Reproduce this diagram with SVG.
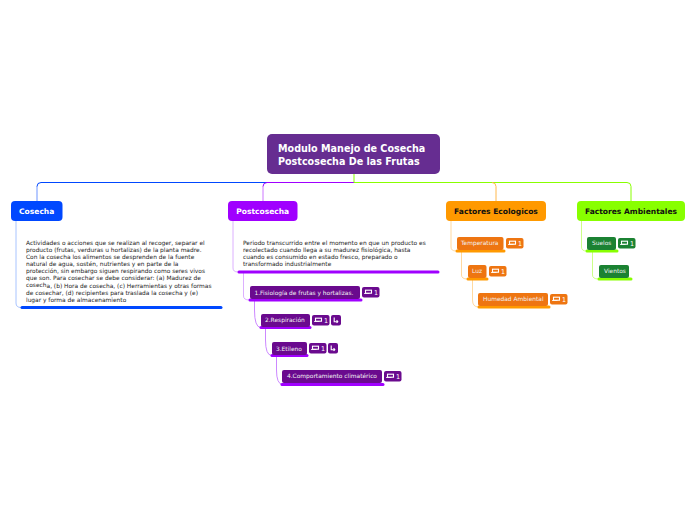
<svg xmlns="http://www.w3.org/2000/svg" width="696" height="520" viewBox="0 0 696 520">
<style>
text{font-family:"DejaVu Sans",Verdana,sans-serif}
.c{fill:none;stroke-width:1}
.b{fill:none;stroke-width:3;stroke-linecap:round}
.t{font-size:5.9px;fill:#222}
.s{font-size:5.9px;fill:#f2f2f2}
.h{font-size:7.55px;font-weight:700;text-anchor:middle}
.r{font-size:9.6px;font-weight:700;fill:#fff}
.n{font-size:6.4px;fill:#fff}
.p{fill:#6a0a8e}
.o{fill:#ee7511}
.g{fill:#1b8232}
.ic{fill:none;stroke:#fff;stroke-width:1.1}
</style>
<defs>
<g id="cm"><rect x="-3" y="-1.800" width="6" height="3" fill="none" stroke="#fff" stroke-width="1.100"/><path d="M-4.500 1.500H1" stroke="#fff" stroke-width="0.800"/></g>
<g id="bk"><path d="M-1.800-2.500v4.200h3.600M0.600 0.200l1.200 1.500-1.200 1.200" class="ic" stroke-width="0.900"/></g>
</defs>
<g id="connectors">
<path class="c" stroke="#0048ff" d="M354 182.500H41q-4 0-4 4"/>
<path class="c" stroke="#6f95ff" stroke-width="1.500" d="M37 186v15"/>
<path class="c" stroke="#a000ff" d="M354 182.500H267q-4 0-4 4"/>
<path class="c" stroke="#cc77ff" stroke-width="1.500" d="M263 186v15"/>
<path class="c" stroke="#88ff00" d="M354 174v8.500H627q4 0 4 4V201"/>
<path class="c" stroke="#ffb84d" d="M492 182.500q4 0 4 4V201"/>
<path class="c" stroke="#a8c4ff" d="M16 221V303q0 4.500 5 4.500"/>
<path class="c" stroke="#dcb0ff" d="M233 221V268q0 4 5 4"/>
<path class="c" stroke="#dcb0ff" d="M243.500 272V296q0 4 6 4"/>
<path class="c" stroke="#cc88ff" d="M254.500 300V310q0 17 6 17.500"/>
<path class="c" stroke="#cc88ff" d="M265.500 327.500V340q0 15 6 15.500"/>
<path class="c" stroke="#cc88ff" d="M276.500 355.500V370q0 14 6 14.500"/>
<path class="c" stroke="#ffd9a0" d="M451 221V247q0 4 5 4"/>
<path class="c" stroke="#ffd9a0" d="M461.500 251V275q0 4 6 4"/>
<path class="c" stroke="#ffd9a0" d="M472.500 279V300q0 7 6 7"/>
<path class="c" stroke="#ccff88" d="M581.500 221V247q0 4 5 4"/>
<path class="c" stroke="#ccff88" d="M592.500 251V275q0 4 6 4"/>
<path class="b" stroke="#0048ff" d="M22 307.500H221"/>
<path class="b" stroke="#a000ff" d="M239 272H438"/>
<path class="b" stroke="#a000ff" d="M250 300H361"/>
<path class="b" stroke="#a000ff" d="M261 327.500H310"/>
<path class="b" stroke="#a000ff" d="M272 355.500H307"/>
<path class="b" stroke="#a000ff" d="M282 384.500H383"/>
<path class="b" stroke="#ff9900" d="M457 251H504"/>
<path class="b" stroke="#ff9900" d="M468 279H487"/>
<path class="b" stroke="#ff9900" d="M479 307H549"/>
<path class="b" stroke="#88ff00" d="M587 251H617"/>
<path class="b" stroke="#88ff00" d="M599 279H631"/>
</g>
<g id="root"><rect x="267" y="134" width="173" height="40" rx="5" fill="#662d91"/>
<text class="r" x="278" y="152">Modulo Manejo de Cosecha</text>
<text class="r" x="278" y="164.500">Postcosecha De las Frutas</text></g>
<g id="cosecha"><rect x="11" y="201" width="51.500" height="20" rx="4" fill="#0048ff"/><text class="h" x="36.700" y="214" fill="#fff">Cosecha</text></g>
<g id="postcosecha"><rect x="228" y="201" width="69.500" height="20" rx="4" fill="#a000ff"/><text class="h" x="262.700" y="214" fill="#fff">Postcosecha</text></g>
<g id="ecologicos"><rect x="446" y="201" width="100" height="20" rx="4" fill="#ff9900"/><text class="h" x="496" y="214" fill="#111">Factores Ecologicos</text></g>
<g id="ambientales"><rect x="577" y="201" width="108" height="20" rx="4" fill="#88ff00"/><text class="h" x="631" y="214" fill="#111">Factores Ambientales</text></g>
<g id="cosecha-note" class="t">
<text x="26" y="245">Actividades o acciones que se realizan al recoger, separar el</text>
<text x="26" y="252">producto (frutas, verduras u hortalizas) de la planta madre.</text>
<text x="26" y="259">Con la cosecha los alimentos se desprenden de la fuente</text>
<text x="26" y="266">natural de agua, sostén, nutrientes y en parte de la</text>
<text x="26" y="273">protección, sin embargo siguen respirando como seres vivos</text>
<text x="26" y="280">que son. Para cosechar se debe considerar: (a) Madurez de</text>
<text x="26" y="287">cosech<tspan dy="1">a, (b) Hora de cosecha, (c) Herramientas y otras formas</tspan></text>
<text x="26" y="295">de cosechar, (d) recipientes para traslada la cosecha y (e)</text>
<text x="26" y="302">lugar y forma de almacenamiento</text>
</g>
<g id="post-note" class="t">
<text x="243" y="245">Periodo transcurrido entre el momento en que un producto es</text>
<text x="243" y="252">recolectado cuando llega a su madurez fisiológica, hasta</text>
<text x="243" y="259">cuando es consumido en estado fresco, preparado o</text>
<text x="243" y="266">transformado industrialmente</text>
</g>
<g id="fisiologia"><rect x="250" y="286" width="110" height="13" rx="2" class="p"/><text class="s" x="254.500" y="295">1.Fisiología de frutas y hortalizas.</text>
<rect x="362" y="287" width="17.500" height="10.500" rx="2" class="p"/><use href="#cm" x="368.500" y="292"/><text class="n" x="374" y="295">1</text></g>
<g id="respiracion"><rect x="261" y="314" width="49" height="13" rx="2" class="p"/><text class="s" x="265" y="322">2.Respiración</text>
<rect x="312" y="315" width="17.500" height="10.500" rx="2" class="p"/><use href="#cm" x="318.500" y="320"/><text class="n" x="324" y="323">1</text>
<rect x="331" y="315" width="10" height="10.500" rx="2" class="p"/><use href="#bk" x="336" y="320"/></g>
<g id="etileno"><rect x="272" y="342" width="35" height="13" rx="2" class="p"/><text class="s" x="276" y="351">3.Etileno</text>
<rect x="309" y="343" width="17.500" height="10.500" rx="2" class="p"/><use href="#cm" x="315.500" y="348"/><text class="n" x="321" y="351">1</text>
<rect x="328" y="343" width="10" height="10.500" rx="2" class="p"/><use href="#bk" x="333" y="348"/></g>
<g id="comportamiento"><rect x="282" y="370" width="100" height="13" rx="2" class="p"/><text class="s" x="287" y="378">4.Comportamiento climatérico</text>
<rect x="384" y="371" width="17.500" height="10.500" rx="2" class="p"/><use href="#cm" x="390.500" y="376"/><text class="n" x="396" y="379">1</text></g>
<g id="temperatura"><rect x="457" y="237" width="46.500" height="13" rx="2" class="o"/><text class="s" x="461" y="245">Temperatura</text>
<rect x="506" y="238" width="17.500" height="10.500" rx="2" class="o"/><use href="#cm" x="512.500" y="243"/><text class="n" x="518" y="246">1</text></g>
<g id="luz"><rect x="468" y="265" width="18.500" height="13" rx="2" class="o"/><text class="s" x="472" y="273">Luz</text>
<rect x="489" y="266" width="17.500" height="10.500" rx="2" class="o"/><use href="#cm" x="495.500" y="271"/><text class="n" x="501" y="274">1</text></g>
<g id="humedad"><rect x="478" y="293" width="70" height="13" rx="2" class="o"/><text class="s" x="483" y="301">Humedad Ambiental</text>
<rect x="550" y="294" width="17.500" height="10.500" rx="2" class="o"/><use href="#cm" x="556.500" y="299"/><text class="n" x="562" y="302">1</text></g>
<g id="suelos"><rect x="587" y="237" width="29" height="13" rx="2" class="g"/><text class="s" x="592" y="245">Suelos</text>
<rect x="618" y="238" width="17.500" height="10.500" rx="2" class="g"/><use href="#cm" x="624.500" y="243"/><text class="n" x="630" y="246">1</text></g>
<g id="vientos"><rect x="599" y="265" width="30" height="13" rx="2" class="g"/><text class="s" x="604" y="273">Vientos</text></g>
</svg>
